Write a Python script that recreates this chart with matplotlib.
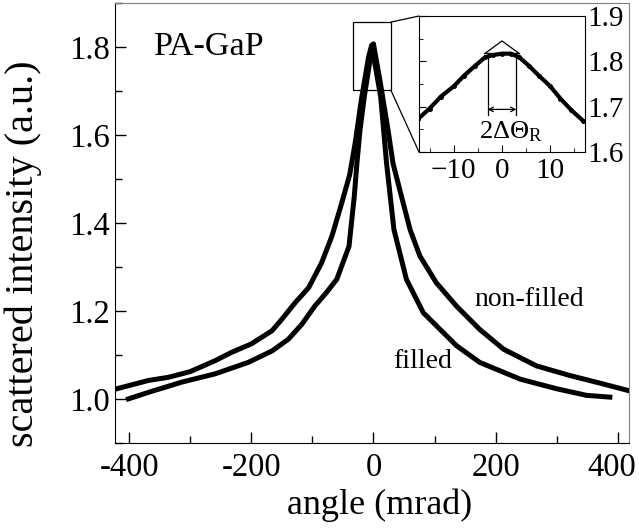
import matplotlib
matplotlib.use('Agg')
import matplotlib.pyplot as plt
from matplotlib.patches import Rectangle, ConnectionPatch
from matplotlib.ticker import MultipleLocator
from matplotlib.transforms import ScaledTranslation

plt.rcParams['font.family'] = ['Liberation Serif', 'DejaVu Serif']
plt.rcParams['mathtext.fontset'] = 'stix'

# non-filled (wider curve)
nf_x = [-423, -368, -336, -300, -259, -232, -200, -166, -150, -128, -106, -85, -68, -52, -39, -30, -19, -8, -3, 0,
        10.6, 24, 32, 46, 60, 76, 103, 136, 174, 213, 267, 322, 376, 417]
nf_y = [1.022, 1.042, 1.049, 1.062, 1.087, 1.106, 1.125, 1.155, 1.181, 1.219, 1.253, 1.309, 1.370, 1.445, 1.509, 1.581, 1.687, 1.777, 1.804, 1.807,
        1.725, 1.611, 1.536, 1.460, 1.385, 1.325, 1.264, 1.211, 1.158, 1.113, 1.075, 1.053, 1.034, 1.019]

# filled (narrower curve)
f_x = [-401, -368, -314, -259, -205, -166, -139, -117, -96, -78, -60, -40, -31.4, -27, -22, -15, -6.5, 0,
       2.5, 11.9, 21.5, 33.6, 54, 81.6, 136, 174, 240, 300, 349, 387]
f_y = [1.000, 1.015, 1.038, 1.057, 1.083, 1.109, 1.136, 1.170, 1.211, 1.240, 1.272, 1.347, 1.460, 1.536, 1.611, 1.687, 1.762, 1.807,
       1.762, 1.687, 1.536, 1.385, 1.272, 1.196, 1.121, 1.083, 1.045, 1.023, 1.008, 1.004]

# inset (peak region)
in_x = [-17.4, -15, -12.7, -10, -7.9, -5.6, -3.5, -1.8, 0, 1.9, 3.6, 5.6, 7.7, 10, 12.1, 14.4, 16.8]
in_y = [1.673, 1.696, 1.722, 1.745, 1.768, 1.790, 1.809, 1.814, 1.817, 1.817, 1.809, 1.790, 1.768, 1.745, 1.718, 1.692, 1.669]

xticks = [-400, -200, 0, 200, 400]
xticklabels = ['-400', '-200', '0', '200', '400']

fig = plt.figure(figsize=(6.39, 5.31), dpi=100)
ax = fig.add_axes([0.18, 0.166, 0.804, 0.828])

ax.plot(nf_x, nf_y, color='black', lw=3.6, solid_joinstyle='round')
ax.plot(f_x, f_y, color='black', lw=3.6, solid_joinstyle='round')

ax.set_xlim(-423, 418)
ax.set_ylim(0.9, 1.9)
ax.set_xticks(xticks)
ax.set_xticklabels(xticklabels)
ax.xaxis.set_minor_locator(MultipleLocator(100))
ax.yaxis.set_major_locator(MultipleLocator(0.2))
ax.yaxis.set_minor_locator(MultipleLocator(0.1))
ax.tick_params(which='both', direction='in', top=False, right=False, labelsize=23.5)
ax.tick_params(which='major', length=8, width=1)
ax.tick_params(which='minor', length=5, width=1)
ax.tick_params(axis='x', pad=7)
# last x label sits a little left of its tick, as in the original
last = ax.xaxis.get_major_ticks()[-1].label1
last.set_transform(last.get_transform() + ScaledTranslation(-6 / 100, 0, fig.dpi_scale_trans))
for s in ['top', 'right']:
    ax.spines[s].set_color('#808080')
ax.set_xlabel('angle (mrad)', fontsize=26)
ax.xaxis.set_label_coords(0.515, -0.104)
ax.set_ylabel('scattered intensity (a.u.)', fontsize=29)
ax.yaxis.set_label_coords(-0.142, 0.43)

ax.text(-360, 1.8, 'PA-GaP', fontsize=24.5, va='center')
ax.text(166, 1.225, 'non-filled', fontsize=20, va='center')
ax.text(32, 1.084, 'filled', fontsize=20, va='center')

ax.add_patch(Rectangle((-34, 1.702), 62.6, 0.155, fill=False, ec='black', lw=0.9))

axin = fig.add_axes([0.6557, 0.7137, 0.2598, 0.2561])
axin.plot(in_x, in_y, color='black', lw=3, marker='o', ms=2.5, mfc='black')
axin.set_xlim(-17.2, 17.2)
axin.set_ylim(1.6, 1.9)
axin.xaxis.set_major_locator(MultipleLocator(10))
axin.xaxis.set_minor_locator(MultipleLocator(5))
axin.yaxis.set_major_locator(MultipleLocator(0.1))
axin.yaxis.set_minor_locator(MultipleLocator(0.05))
axin.tick_params(which='both', direction='in', top=False, right=False,
                 labelleft=False, labelright=True, labelsize=21)
axin.tick_params(which='major', length=5)
axin.tick_params(which='minor', length=3)
axin.tick_params(axis='y', pad=2)
axin.tick_params(axis='x', pad=4)

# peak width construction
axin.plot([-3.6, 0, 3.6], [1.817, 1.845, 1.817], color='black', lw=0.9)
axin.plot([-3.5, 3.5], [1.819, 1.819], color='black', lw=0.9)
axin.plot([-3.0, -3.0], [1.819, 1.681], color='black', lw=0.9)
axin.plot([3.0, 3.0], [1.819, 1.681], color='black', lw=0.9)
axin.annotate('', xy=(-3.0, 1.694), xytext=(3.0, 1.694),
              arrowprops=dict(arrowstyle='<->', lw=0.9, color='black', shrinkA=0, shrinkB=0, mutation_scale=8))
axin.text(1.9, 1.645, r'2ΔΘ$_{\mathregular{R}}$', fontsize=19, ha='center', va='center')

for ya, yb in [(1.857, 1), (1.702, 0)]:
    con = ConnectionPatch(xyA=(28.6, ya), coordsA=ax.transData,
                          xyB=(0, yb), coordsB=axin.transAxes, color='black', lw=0.9)
    fig.add_artist(con)

fig.savefig('out.png', dpi=100)
